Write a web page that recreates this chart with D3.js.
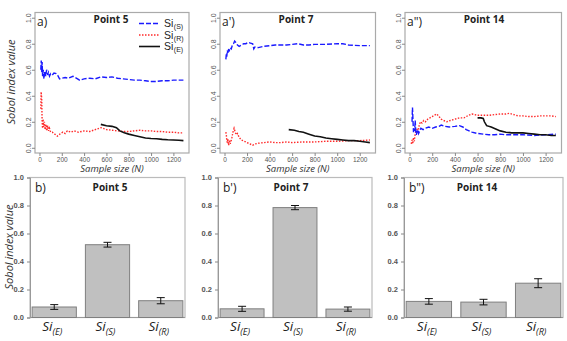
<!DOCTYPE html>
<html>
<head>
<meta charset="utf-8">
<script src="https://cdn.jsdelivr.net/npm/d3@7"></script>
<style>
  body { margin: 0; background: #fff; }
  svg { display: block; }
  .tick text { font-family: "Liberation Sans", Arial, sans-serif; fill: #555; }
  .lbl { font-family: "Open Sans", "DejaVu Sans", sans-serif; fill: #222; }
  .leg { font-family: "Liberation Sans", Arial, sans-serif; fill: #222; }
</style>
</head>
<body>
<svg id="chart" width="567" height="341"></svg>
<script>
// sample size vs sobol index, [N, value]
const p5SiS = [[12,0.60],[16,0.67],[20,0.58],[24,0.66],[28,0.55],[34,0.60],[40,0.53],[48,0.59],[56,0.55],[64,0.60],[72,0.56],[80,0.58],[90,0.55],[100,0.57],[115,0.56],[130,0.575],[150,0.57],[165,0.555],[180,0.53],[200,0.535],[230,0.54],[260,0.535],[300,0.55],[330,0.535],[360,0.52],[400,0.53],[450,0.535],[500,0.53],[550,0.545],[600,0.54],[650,0.545],[700,0.535],[750,0.53],[800,0.525],[850,0.52],[900,0.52],[950,0.515],[1000,0.51],[1050,0.51],[1100,0.515],[1150,0.515],[1200,0.52],[1250,0.52],[1290,0.52]];
const p5SiR = [[12,0.30],[15,0.43],[20,0.38],[24,0.20],[28,0.15],[32,0.22],[38,0.16],[44,0.20],[50,0.14],[58,0.18],[66,0.13],[74,0.17],[82,0.13],[90,0.15],[100,0.12],[115,0.12],[130,0.11],[145,0.10],[160,0.09],[175,0.10],[190,0.11],[210,0.12],[230,0.11],[250,0.13],[280,0.12],[310,0.13],[350,0.12],[400,0.13],[450,0.125],[500,0.14],[550,0.155],[600,0.14],[650,0.135],[700,0.13],[750,0.125],[800,0.125],[850,0.13],[900,0.135],[950,0.13],[1000,0.13],[1050,0.125],[1100,0.125],[1150,0.12],[1200,0.12],[1250,0.115],[1290,0.115]];
const p5SiE = [[550,0.18],[600,0.17],[650,0.165],[690,0.155],[720,0.13],[760,0.115],[800,0.105],[850,0.095],[900,0.085],[950,0.075],[1000,0.072],[1050,0.07],[1100,0.065],[1150,0.062],[1200,0.06],[1250,0.058],[1290,0.055]];

const p7SiS = [[12,0.68],[16,0.72],[20,0.70],[25,0.75],[30,0.73],[35,0.76],[40,0.74],[50,0.77],[60,0.76],[70,0.79],[80,0.80],[90,0.82],[100,0.81],[115,0.79],[130,0.78],[150,0.79],[170,0.80],[190,0.80],[210,0.81],[230,0.805],[250,0.80],[260,0.76],[270,0.775],[300,0.77],[350,0.78],[400,0.785],[450,0.79],[500,0.79],[550,0.79],[600,0.795],[650,0.80],[700,0.79],[750,0.79],[800,0.795],[900,0.795],[1000,0.80],[1050,0.80],[1100,0.79],[1200,0.785],[1290,0.785]];
const p7SiR = [[12,0.12],[16,0.10],[20,0.06],[25,0.04],[30,0.07],[35,0.02],[40,0.03],[45,0.06],[50,0.03],[58,0.05],[66,0.08],[75,0.12],[85,0.15],[95,0.12],[105,0.10],[115,0.11],[130,0.08],[150,0.06],[175,0.05],[200,0.04],[225,0.03],[250,0.02],[275,0.03],[300,0.035],[350,0.04],[400,0.045],[450,0.04],[500,0.04],[550,0.045],[600,0.04],[700,0.045],[800,0.045],[900,0.05],[1000,0.05],[1100,0.055],[1200,0.055],[1290,0.06]];
const p7SiE = [[570,0.14],[620,0.135],[660,0.125],[700,0.12],[750,0.105],[800,0.09],[850,0.085],[900,0.075],[950,0.07],[1000,0.065],[1050,0.06],[1100,0.055],[1150,0.055],[1200,0.05],[1250,0.045],[1290,0.04]];

const p14SiS = [[22,0.20],[26,0.31],[30,0.22],[35,0.12],[40,0.15],[45,0.13],[50,0.21],[55,0.12],[60,0.10],[65,0.12],[72,0.14],[80,0.11],[90,0.13],[100,0.15],[120,0.14],[140,0.15],[170,0.16],[200,0.15],[230,0.16],[260,0.165],[280,0.175],[310,0.165],[350,0.16],[400,0.165],[440,0.17],[470,0.16],[500,0.14],[550,0.12],[600,0.11],[650,0.105],[700,0.10],[750,0.10],[800,0.105],[850,0.10],[900,0.10],[1000,0.10],[1100,0.095],[1200,0.10],[1290,0.105]];
const p14SiR = [[15,0.03],[22,0.06],[28,0.03],[35,0.08],[42,0.05],[50,0.11],[58,0.13],[66,0.14],[75,0.12],[85,0.17],[95,0.20],[110,0.19],[125,0.21],[140,0.20],[160,0.22],[180,0.23],[200,0.24],[220,0.25],[240,0.26],[260,0.24],[280,0.22],[300,0.21],[330,0.20],[360,0.21],[400,0.22],[440,0.23],[480,0.23],[520,0.25],[550,0.26],[600,0.25],[650,0.25],[700,0.25],[750,0.255],[800,0.26],[850,0.26],[880,0.265],[920,0.255],[960,0.245],[1000,0.245],[1050,0.24],[1100,0.24],[1150,0.245],[1200,0.245],[1250,0.245],[1290,0.24]];
const p14SiE = [[600,0.23],[630,0.23],[650,0.225],[660,0.20],[680,0.17],[720,0.16],[760,0.145],[800,0.13],[850,0.12],[900,0.115],[950,0.115],[1000,0.115],[1050,0.11],[1100,0.105],[1150,0.10],[1200,0.10],[1250,0.095],[1290,0.095]];

// bars
const barCats = ['E', 'S', 'R'];
const p5Bars = [0.075, 0.52, 0.12];
const p5Err = [0.017, 0.017, 0.022];
const p7Bars = [0.062, 0.785, 0.06];
const p7Err = [0.018, 0.015, 0.015];
const p14Bars = [0.115, 0.11, 0.245];
const p14Err = [0.02, 0.02, 0.032];

const xTicks = [0, 200, 400, 600, 800, 1000, 1200];
const yTicks = [0, 0.2, 0.4, 0.6, 0.8, 1.0];

const svg = d3.select('#chart');

function subText(g, x, y, main, sub, size, subSize, anchor, drop) {
  const t = g.append('text')
    .attr('class', 'lbl')
    .attr('x', x).attr('y', y)
    .attr('text-anchor', anchor)
    .style('font-size', size + 'px');
  t.append('tspan').text(main);
  t.append('tspan').attr('dy', drop).style('font-size', subSize + 'px').text(sub);
  return t;
}

// top row: convergence plots
const linePanel = (cfg) => {
  const x = d3.scaleLinear().domain([-40, 1340]).range([cfg.left, cfg.right]);
  const y = d3.scaleLinear().domain([-0.04, 1.04]).range([153, 12.5]);

  const g = svg.append('g');

  g.append('rect')
    .attr('x', cfg.left).attr('y', 12.5)
    .attr('width', cfg.right - cfg.left).attr('height', 153 - 12.5)
    .attr('fill', 'none').attr('stroke', '#aaa').attr('stroke-width', 1.2);

  const ya = g.append('g')
    .attr('transform', 'translate(' + cfg.left + ',0)')
    .call(d3.axisLeft(y).tickValues(yTicks).tickSize(3).tickFormat(d3.format('.1f')));
  ya.select('.domain').remove();
  ya.selectAll('line').attr('stroke', '#888');
  ya.selectAll('text')
    .style('font-size', '7px')
    .attr('text-anchor', 'middle')
    .attr('transform', 'rotate(-90)')
    .attr('x', 0).attr('y', -4.5).attr('dy', 0);

  const xa = g.append('g')
    .attr('transform', 'translate(0,153)')
    .call(d3.axisBottom(x).tickValues(xTicks).tickSize(3).tickFormat(d3.format('d')));
  xa.select('.domain').remove();
  xa.selectAll('line').attr('stroke', '#888');
  xa.selectAll('text').style('font-size', '6.5px').attr('y', 4);

  const line = d3.line().x(d => x(d[0])).y(d => y(d[1]));

  g.append('path').datum(cfg.r).attr('d', line)
    .attr('fill', 'none').attr('stroke', '#ff2a2a').attr('stroke-width', 1.4)
    .attr('stroke-dasharray', '1.5,1.5');
  g.append('path').datum(cfg.s).attr('d', line)
    .attr('fill', 'none').attr('stroke', '#1a1aff').attr('stroke-width', 1.4)
    .attr('stroke-dasharray', '5,2');
  g.append('path').datum(cfg.e).attr('d', line)
    .attr('fill', 'none').attr('stroke', '#111').attr('stroke-width', 1.6);

  g.append('text').attr('class', 'lbl')
    .attr('x', cfg.left + 2).attr('y', 26)
    .style('font-size', '12px').text(cfg.tag);
  g.append('text').attr('class', 'lbl')
    .attr('x', cfg.titleX).attr('y', 23)
    .attr('text-anchor', 'middle')
    .style('font-size', '10px').style('font-weight', 'bold')
    .text(cfg.title);

  g.append('text').attr('class', 'lbl')
    .attr('x', (cfg.left + cfg.right) / 2).attr('y', 172)
    .attr('text-anchor', 'middle')
    .style('font-size', '9.5px').style('font-style', 'italic').style('fill', '#333')
    .text('Sample size (N)');
};

linePanel({left: 35, right: 189, s: p5SiS, r: p5SiR, e: p5SiE, tag: 'a)', title: 'Point 5', titleX: 111});
linePanel({left: 220, right: 375.5, s: p7SiS, r: p7SiR, e: p7SiE, tag: "a')", title: 'Point 7', titleX: 296});
linePanel({left: 405, right: 561.5, s: p14SiS, r: p14SiR, e: p14SiE, tag: 'a")', title: 'Point 14', titleX: 484});

// legend in panel a
{
  const lg = svg.append('g');
  const items = [
    {sub: '(S)', color: '#1a1aff', dash: '5,2'},
    {sub: '(R)', color: '#ff2a2a', dash: '1.5,1.5'},
    {sub: '(E)', color: '#111', dash: null}
  ];
  items.forEach((it, i) => {
    const cy = 23.5 + i * 11.5;
    lg.append('line')
      .attr('x1', 139).attr('x2', 160).attr('y1', cy).attr('y2', cy)
      .attr('stroke', it.color).attr('stroke-width', 1.6)
      .attr('stroke-dasharray', it.dash);
    const si = lg.append('text').attr('class', 'leg')
      .attr('x', 164).attr('y', cy + 3.5)
      .style('font-size', '10.5px').text('Si');
    const w = si.node().getComputedTextLength();
    lg.append('text').attr('class', 'leg')
      .attr('x', 164 + w + 0.5).attr('y', cy + 5.5)
      .style('font-size', '7px').text(it.sub);
  });
}

svg.append('text').attr('class', 'lbl')
  .attr('transform', 'translate(15,82) rotate(-90)')
  .attr('text-anchor', 'middle')
  .style('font-size', '11px').style('font-style', 'italic').style('fill', '#333')
  .text('Sobol index value');

// bottom row: bar charts
const barPanel = (cfg) => {
  const x = d3.scaleBand().domain(barCats).range([cfg.left, cfg.right])
    .paddingInner(0.17).paddingOuter(0.04);
  const y = d3.scaleLinear().domain([0, 1]).range([317.5, 177.5]);

  const g = svg.append('g');

  g.append('rect')
    .attr('x', cfg.left).attr('y', 177.5)
    .attr('width', cfg.right - cfg.left).attr('height', 317.5 - 177.5)
    .attr('fill', 'none').attr('stroke', '#bbb').attr('stroke-width', 1.2);

  const ya = g.append('g')
    .attr('transform', 'translate(' + cfg.left + ',0)')
    .call(d3.axisLeft(y).tickValues(yTicks).tickSize(3).tickFormat(d3.format('.1f')));
  ya.select('.domain').attr('stroke', '#999');
  ya.selectAll('line').attr('stroke', '#888');
  ya.selectAll('text').style('font-size', '7.5px').style('font-weight', 'bold').style('fill', '#555');

  g.append('line')
    .attr('x1', cfg.left).attr('x2', cfg.right)
    .attr('y1', 317.5).attr('y2', 317.5)
    .attr('stroke', '#999');

  const vals = cfg.vals.map((v, i) => ({cat: barCats[i], v: v, err: cfg.err[i]}));

  g.selectAll('.bar')
    .data(vals)
    .enter()
    .append('rect')
    .attr('class', 'bar')
    .attr('x', d => x(d.cat))
    .attr('y', d => y(d.v))
    .attr('width', x.bandwidth())
    .attr('height', d => y(0) - y(d.v))
    .attr('fill', '#c0c0c0')
    .attr('stroke', '#7f7f7f')
    .attr('stroke-width', 1);

  const eb = g.selectAll('.err')
    .data(vals)
    .enter()
    .append('g')
    .attr('class', 'err')
    .attr('transform', d => 'translate(' + (x(d.cat) + x.bandwidth() / 2) + ',0)');
  eb.append('line')
    .attr('y1', d => y(d.v - d.err)).attr('y2', d => y(d.v + d.err))
    .attr('stroke', '#111');
  eb.append('line')
    .attr('x1', -4).attr('x2', 4)
    .attr('y1', d => y(d.v - d.err)).attr('y2', d => y(d.v - d.err))
    .attr('stroke', '#111');
  eb.append('line')
    .attr('x1', -4).attr('x2', 4)
    .attr('y1', d => y(d.v + d.err)).attr('y2', d => y(d.v + d.err))
    .attr('stroke', '#111');

  vals.forEach(d => {
    subText(g, x(d.cat) + x.bandwidth() / 2 - 2, 331, 'Si', '(' + d.cat + ')', 13.5, 9, 'middle', 4)
      .style('font-style', 'italic');
  });

  g.append('text').attr('class', 'lbl')
    .attr('x', cfg.left + 5).attr('y', 192)
    .style('font-size', '12px').text(cfg.tag);
  g.append('text').attr('class', 'lbl')
    .attr('x', cfg.titleX).attr('y', 191)
    .attr('text-anchor', 'middle')
    .style('font-size', '10px').style('font-weight', 'bold')
    .text(cfg.title);
};

barPanel({left: 30, right: 185, vals: p5Bars, err: p5Err, tag: 'b)', title: 'Point 5', titleX: 110});
barPanel({left: 218, right: 372, vals: p7Bars, err: p7Err, tag: "b')", title: 'Point 7', titleX: 291});
barPanel({left: 404, right: 563, vals: p14Bars, err: p14Err, tag: 'b")', title: 'Point 14', titleX: 477});

svg.append('text').attr('class', 'lbl')
  .attr('transform', 'translate(13,247) rotate(-90)')
  .attr('text-anchor', 'middle')
  .style('font-size', '11px').style('font-style', 'italic').style('fill', '#333')
  .text('Sobol index value');
</script>
</body>
</html>
